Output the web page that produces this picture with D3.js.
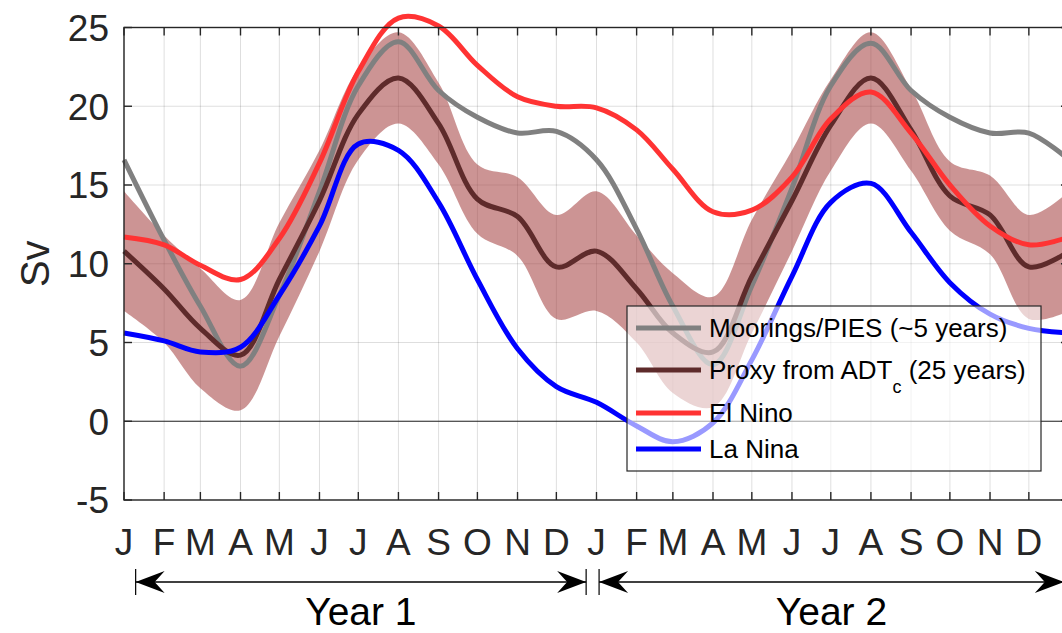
<!DOCTYPE html>
<html>
<head>
<meta charset="utf-8">
<script src="https://cdn.jsdelivr.net/npm/d3@7"></script>
<style>
  body { margin: 0; background: #fff; }
  svg { display: block; font-family: "Liberation Sans", Arial, Helvetica, sans-serif; }
</style>
</head>
<body>
<svg id="chart" width="1062" height="633"></svg>
<script>
var totalW = 1062;
var totalH = 633;

// month starts (day of year) and labels
var monthDays = [0, 31, 59, 90, 120, 151, 181, 212, 243, 273, 304, 334];
var monthLabels = ['J', 'F', 'M', 'A', 'M', 'J', 'J', 'A', 'S', 'O', 'N', 'D'];
var yTicks = [-5, 0, 5, 10, 15, 20, 25];

// values at each month start, Jan year 1 .. Jan year 3 (25 points)
var moorings = [16.6, 11.5, 7.3, 3.5, 8.0, 14.6, 21.3, 24.1, 21.0, 19.3, 18.3, 18.4, 16.6,
                12.2, 7.3, 3.6, 8.6, 14.8, 21.3, 24.0, 21.0, 19.3, 18.3, 18.3, 16.6];
var proxy    = [10.8, 8.4, 5.9, 4.2, 9.0, 14.0, 19.5, 21.8, 18.9, 14.1, 13.0, 9.8, 10.8,
                8.4, 5.6, 4.4, 9.2, 14.0, 18.8, 21.8, 18.5, 14.3, 13.1, 9.8, 10.8];
var proxyErr = [3.8, 3.4, 3.8, 3.5, 3.6, 3.2, 2.9, 2.9, 2.6, 2.2, 2.5, 3.3, 3.8,
                3.4, 3.8, 3.5, 3.6, 3.2, 2.9, 2.9, 2.6, 2.2, 2.5, 3.3, 3.8];
var elNino   = [11.7, 11.2, 9.9, 9.0, 11.6, 16.4, 22.2, 25.6, 25.1, 22.6, 20.6, 20.0, 19.9,
                18.5, 16.0, 13.3, 13.4, 15.5, 19.2, 20.9, 18.3, 15.0, 12.4, 11.2, 11.7];
var laNina   = [5.6, 5.1, 4.4, 4.7, 8.0, 12.4, 17.6, 17.2, 13.9, 9.0, 4.6, 2.2, 1.2,
                -0.3, -1.3, -0.1, 3.9, 9.2, 13.9, 15.1, 12.0, 8.8, 6.8, 5.9, 5.6];

var legendNames = ['Moorings/PIES (~5 years)', 'Proxy from ADT', 'El Nino', 'La Nina'];
var colors = {moorings: '#808080', proxy: '#5e2b2b', elNino: '#ff3333', laNina: '#0000ff', band: '#a33d3d'};

// year arrows, in days
var years = [{label: 'Year 1', from: 9, to: 357}, {label: 'Year 2', from: 367, to: 726}];

var tickDays = [];
for (var k = 0; k < 2; k++) {
    monthDays.forEach(function(d) { tickDays.push(d + 365 * k); });
}
tickDays.push(730);

var plotL = 124, plotT = 27.5, plotB = 500;
var plotR = plotL + 730 * 1.2945;

var x = d3.scaleLinear().domain([0, 730]).range([plotL, plotR]);
var y = d3.scaleLinear().domain([-5, 25]).range([plotB, plotT]);

var svg = d3.select('#chart');

init();

function init() {
    drawGrid();
    drawSeries();
    drawAxes();
    drawLegend();
    drawYears();
}

function drawGrid() {
    var g = svg.append('g').attr('class', 'grid').attr('stroke', '#000').attr('stroke-opacity', 0.13).attr('stroke-width', 1);
    tickDays.forEach(function(d) {
        g.append('line').attr('x1', x(d)).attr('x2', x(d)).attr('y1', plotT).attr('y2', plotB);
    });
    yTicks.forEach(function(v) {
        g.append('line').attr('x1', plotL).attr('x2', plotR).attr('y1', y(v)).attr('y2', y(v));
    });
}

function drawSeries() {
    var g = svg.append('g').attr('class', 'series');

    var curve = d3.curveCatmullRom.alpha(0.5);
    var band = d3.area()
        .x(function(d, i) { return x(tickDays[i]); })
        .y0(function(d, i) { return y(proxy[i] - proxyErr[i]); })
        .y1(function(d, i) { return y(proxy[i] + proxyErr[i]); })
        .curve(curve);
    g.append('path').attr('d', band(proxy)).attr('fill', colors.band).attr('fill-opacity', 0.55);

    // zero line
    g.append('line').attr('x1', plotL).attr('x2', plotR).attr('y1', y(0)).attr('y2', y(0))
        .attr('stroke', '#262626').attr('stroke-width', 1.2);

    var line = d3.line()
        .x(function(d, i) { return x(tickDays[i]); })
        .y(function(d) { return y(d); })
        .curve(curve);

    [[moorings, colors.moorings], [proxy, colors.proxy], [elNino, colors.elNino], [laNina, colors.laNina]].forEach(function(s) {
        g.append('path').attr('d', line(s[0])).attr('fill', 'none')
            .attr('stroke', s[1]).attr('stroke-width', 5);
    });
}

function drawAxes() {
    var g = svg.append('g').attr('class', 'axes').attr('stroke', '#262626').attr('stroke-width', 1.4);
    g.append('rect').attr('x', plotL).attr('y', plotT).attr('width', plotR - plotL).attr('height', plotB - plotT).attr('fill', 'none');
    tickDays.forEach(function(d) {
        g.append('line').attr('x1', x(d)).attr('x2', x(d)).attr('y1', plotT).attr('y2', plotT + 8);
        g.append('line').attr('x1', x(d)).attr('x2', x(d)).attr('y1', plotB).attr('y2', plotB - 8);
    });
    yTicks.forEach(function(v) {
        g.append('line').attr('x1', plotL).attr('x2', plotL + 8).attr('y1', y(v)).attr('y2', y(v));
        g.append('line').attr('x1', plotR).attr('x2', plotR - 8).attr('y1', y(v)).attr('y2', y(v));
    });

    var t = svg.append('g').attr('fill', '#262626').attr('font-size', 37);
    yTicks.forEach(function(v) {
        t.append('text').attr('x', plotL - 15).attr('y', y(v)).attr('dy', '0.36em')
            .attr('text-anchor', 'end').text(v);
    });
    tickDays.slice(0, 24).forEach(function(d, i) {
        t.append('text').attr('x', x(d)).attr('y', 555)
            .attr('text-anchor', 'middle').text(monthLabels[i % 12]);
    });
    t.append('text').attr('transform', 'translate(49,' + ((plotT + plotB) / 2) + ') rotate(-90)')
        .attr('text-anchor', 'middle').attr('font-size', 40).text('Sv');
}

function drawLegend() {
    var lx = 627, ly = 306, lw = 414, lh = 165;
    var g = svg.append('g').attr('class', 'legend');
    g.append('rect').attr('x', lx).attr('y', ly).attr('width', lw).attr('height', lh)
        .attr('fill', '#fff').attr('fill-opacity', 0.6).attr('stroke', '#262626').attr('stroke-width', 1.2);
    var rows = [328, 370, 413, 449];
    var cols = [colors.moorings, colors.proxy, colors.elNino, colors.laNina];
    legendNames.forEach(function(name, i) {
        g.append('line').attr('x1', 636).attr('x2', 701).attr('y1', rows[i]).attr('y2', rows[i])
            .attr('stroke', cols[i]).attr('stroke-width', 5);
        var txt = g.append('text').attr('x', 709).attr('y', rows[i] + 9).attr('font-size', 26).attr('fill', '#000');
        txt.append('tspan').text(name);
        if (i == 1) {
            txt.append('tspan').attr('font-size', 18).attr('dy', 14).text('c');
            txt.append('tspan').attr('dy', -14).text(' (25 years)');
        }
    });
}

function drawYears() {
    var ay = 582;
    var g = svg.append('g').attr('class', 'years');
    years.forEach(function(yr) {
        var x0 = x(yr.from), x1 = x(yr.to);
        g.append('line').attr('x1', x0).attr('x2', x1).attr('y1', ay).attr('y2', ay)
            .attr('stroke', '#000').attr('stroke-width', 1.6);
        g.append('line').attr('x1', x0).attr('x2', x0).attr('y1', ay - 13).attr('y2', ay + 13)
            .attr('stroke', '#000').attr('stroke-width', 1.2);
        if (yr.label == 'Year 1') {
            g.append('line').attr('x1', x1).attr('x2', x1).attr('y1', ay - 13).attr('y2', ay + 13)
                .attr('stroke', '#000').attr('stroke-width', 1.2);
        }
        arrowHead(g, x0, ay, 1);
        arrowHead(g, x1, ay, -1);
        g.append('text').attr('x', (x0 + x1) / 2).attr('y', 625).attr('text-anchor', 'middle')
            .attr('font-size', 39).attr('fill', '#000').text(yr.label);
    });
}

function arrowHead(g, tipX, tipY, dir) {
    var len = 29, half = 11, notch = 19;
    var p = d3.path();
    p.moveTo(tipX, tipY);
    p.lineTo(tipX + dir * len, tipY - half);
    p.lineTo(tipX + dir * notch, tipY);
    p.lineTo(tipX + dir * len, tipY + half);
    p.closePath();
    g.append('path').attr('d', p.toString()).attr('fill', '#000');
}
</script>
</body>
</html>
